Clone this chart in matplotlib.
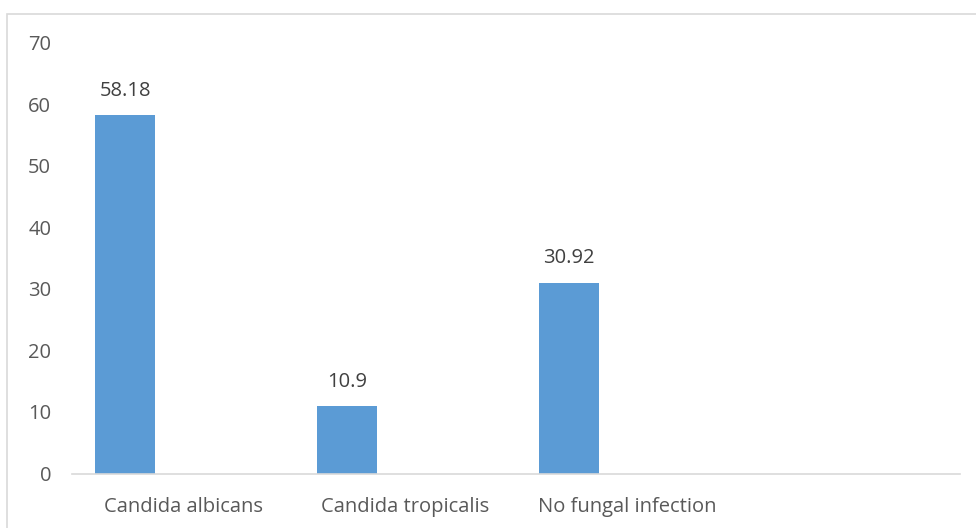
import numpy as np
import matplotlib.pyplot as plt
from matplotlib.patches import Rectangle

# data
categories = ["Candida albicans", "Candida tropicalis", "No fungal infection", ""]
values = [58.18, 10.9, 30.92, np.nan]
value_labels = ["58.18", "10.9", "30.92", ""]
yticks = [0, 10, 20, 30, 40, 50, 60, 70]

plt.rcParams['font.family'] = ['Open Sans', 'DejaVu Sans']
text_color = "#595959"
fs = 14.5

fig = plt.figure(figsize=(9.76, 5.28), dpi=100)
ax = fig.add_axes([72/976, (528-473.5)/528, (960-72)/976, (473.5-42.5)/528])

x = np.arange(len(categories))
offset = -0.26
bars = ax.bar(x + offset, values, width=0.27, color="#5B9BD5")

for xi, v, lab in zip(x, values, value_labels):
    if lab:
        ax.text(xi + offset, v + 2.4, lab, ha="center", va="bottom",
                fontsize=fs, color="#404040")

ax.set_xlim(-0.5, len(categories) - 0.5)
ax.set_ylim(0, 70)
ax.set_yticks(yticks)
ax.set_xticks(x)
ax.set_xticklabels(categories)
ax.tick_params(axis="both", length=0, labelsize=fs, labelcolor=text_color)
ax.tick_params(axis="y", pad=15)
ax.tick_params(axis="x", pad=17)

for s in ["top", "right", "left"]:
    ax.spines[s].set_visible(False)
ax.spines["bottom"].set_color("#D9D9D9")
ax.spines["bottom"].set_linewidth(1.2)

# chart border
fig.patches.append(Rectangle((7/976, -0.01), 1.2, (528-14)/528 + 0.01,
                             transform=fig.transFigure, fill=False,
                             edgecolor="#D9D9D9", linewidth=1.2))

fig.savefig("out.png", dpi=100)
